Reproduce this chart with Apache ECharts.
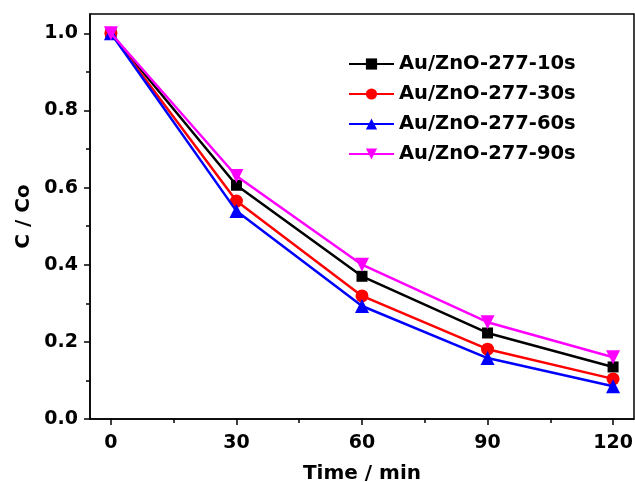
<!DOCTYPE html>
<html>
<head>
<meta charset="utf-8">
<script src="https://cdn.jsdelivr.net/npm/echarts@6/dist/echarts.min.js"></script>
<style>
  html, body { margin: 0; padding: 0; background: #fff; }
  #main { width: 635px; height: 482px; }
</style>
</head>
<body>
<div id="main"></div>
<script>
var times = [0, 30, 60, 90, 120];
var names = ['Au/ZnO-277-10s', 'Au/ZnO-277-30s', 'Au/ZnO-277-60s', 'Au/ZnO-277-90s'];
var s10 = [1.0, 0.606, 0.370, 0.223, 0.135];
var s30 = [1.0, 0.565, 0.319, 0.181, 0.104];
var s60 = [1.0, 0.539, 0.293, 0.158, 0.085];
var s90 = [1.0, 0.630, 0.400, 0.251, 0.160];
var xMajor = [0, 30, 60, 90, 120];
var xMinor = [15, 45, 75, 105];
var yMajor = [0, 0.2, 0.4, 0.6, 0.8, 1.0];
var yMinor = [0.1, 0.3, 0.5, 0.7, 0.9];

var colors = ['#000000', '#ff0000', '#0000ff', '#ff00ff'];
var symbols = ['rect', 'circle', 'triangle', 'triangle'];
var sizes = [11, 13, 14, 14];
var rotates = [0, 0, 0, 180];
var values = [s10, s30, s60, s90];

function pairs(v) {
  return times.map(function (t, i) { return [t, v[i]]; });
}

var font = { fontFamily: 'DejaVu Sans', fontWeight: 'bold', color: '#000' };

var chart = echarts.init(document.getElementById('main'));

var option = {
  backgroundColor: '#ffffff',
  animation: false,
  grid: {
    left: 90, right: 1, top: 14, bottom: 63,
    outerBoundsMode: 'none', containLabel: false,
    show: true, borderColor: '#000', borderWidth: 1.5
  },
  legend: {
    left: 348, top: 54, orient: 'vertical', padding: 0,
    itemWidth: 45, itemHeight: 14, itemGap: 10, itemTextGap: 6,
    textStyle: Object.assign({ fontSize: 19.5, lineHeight: 20 }, font),
    data: names
  },
  xAxis: [{
    type: 'value', min: -5, max: 125,
    axisLine: { show: true, onZero: false, lineStyle: { color: '#000', width: 1.5 } },
    axisTick: { show: true, customValues: xMajor, length: 6, lineStyle: { color: '#000', width: 1.5 } },
    axisLabel: Object.assign({ customValues: xMajor, fontSize: 19, margin: 15 }, font),
    splitLine: { show: false },
    name: 'Time / min', nameLocation: 'middle', nameGap: 45,
    nameTextStyle: Object.assign({ fontSize: 20 }, font)
  }, {
    type: 'value', min: -5, max: 125, position: 'bottom',
    axisLine: { show: false, onZero: false },
    axisTick: { show: true, customValues: xMinor, length: 4, lineStyle: { color: '#000', width: 1.5 } },
    axisLabel: { show: false },
    splitLine: { show: false }
  }],
  yAxis: [{
    type: 'value', min: 0, max: 1.05,
    axisLine: { show: true, onZero: false, lineStyle: { color: '#000', width: 1.5 } },
    axisTick: { show: true, customValues: yMajor, length: 6, lineStyle: { color: '#000', width: 1.5 } },
    axisLabel: Object.assign({
      customValues: yMajor, fontSize: 19, margin: 12,
      formatter: function (v) { return v.toFixed(1); }
    }, font),
    splitLine: { show: false },
    name: 'C / Co', nameLocation: 'middle', nameGap: 56, nameRotate: 90,
    nameTextStyle: Object.assign({ fontSize: 20 }, font)
  }, {
    type: 'value', min: 0, max: 1.05, position: 'left',
    axisLine: { show: false, onZero: false },
    axisTick: { show: true, customValues: yMinor, length: 4, lineStyle: { color: '#000', width: 1.5 } },
    axisLabel: { show: false },
    splitLine: { show: false }
  }],
  series: names.map(function (n, i) {
    return {
      name: n, type: 'line', data: pairs(values[i]),
      xAxisIndex: 0, yAxisIndex: 0,
      symbol: symbols[i], symbolSize: sizes[i], symbolRotate: rotates[i],
      showAllSymbol: true,
      lineStyle: { color: colors[i], width: 2.5 },
      itemStyle: { color: colors[i], borderWidth: 0 },
      z: 2 + i
    };
  })
};

chart.setOption(option);
</script>
</body>
</html>
